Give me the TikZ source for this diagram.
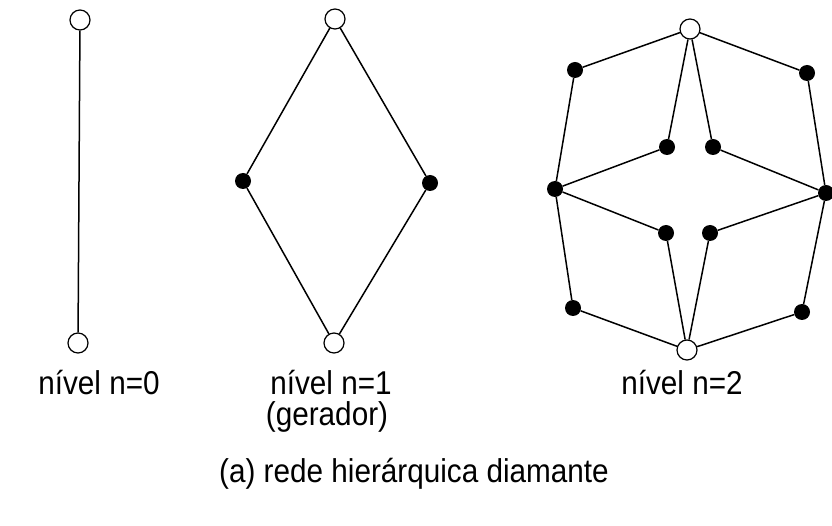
\documentclass[tikz,border=0pt]{standalone}
\usepackage{fontspec}
\usepackage{graphicx}
\setmainfont{Liberation Sans}
\newcommand{\narrowtext}[1]{\scalebox{0.9}[1]{#1}}
\begin{document}
\begin{tikzpicture}[x=1pt,y=-1pt,
  edge/.style={line width=1.5pt},
  open/.style={circle,draw,line width=1.2pt,fill=white,minimum size=20pt,inner sep=0pt},
  full/.style={circle,fill=black,minimum size=16pt,inner sep=0pt},
  lbl/.style={font=\fontsize{33}{36}\selectfont,inner sep=0pt,anchor=base}]
\useasboundingbox (0,0) rectangle (832,526);
% level 0
\node[open] (a0) at (80,20) {};
\node[open] (b0) at (78,343) {};
\draw[edge] (a0) -- (b0);
% level 1
\node[open] (t1) at (335,19) {};
\node[open] (u1) at (334,343) {};
\node[full] (l1) at (243,181) {};
\node[full] (r1) at (430,183) {};
\draw[edge] (t1) -- (l1) -- (u1) -- (r1) -- (t1);
% level 2
\node[open] (t2) at (690,29) {};
\node[open] (u2) at (687,350) {};
\node[full] (lm) at (555,189) {};
\node[full] (rm) at (826,193) {};
\node[full] (ula) at (575,70) {};
\node[full] (ura) at (807,73) {};
\node[full] (lla) at (573,308) {};
\node[full] (lra) at (802,312) {};
\node[full] (uli) at (667,147) {};
\node[full] (uri) at (713,147) {};
\node[full] (lli) at (666,233) {};
\node[full] (lri) at (710,233) {};
\draw[edge] (t2) -- (ula) -- (lm);
\draw[edge] (t2) -- (uli) -- (lm);
\draw[edge] (t2) -- (ura) -- (rm);
\draw[edge] (t2) -- (uri) -- (rm);
\draw[edge] (lm) -- (lla) -- (u2);
\draw[edge] (lm) -- (lli) -- (u2);
\draw[edge] (rm) -- (lra) -- (u2);
\draw[edge] (rm) -- (lri) -- (u2);
% labels
\node[lbl] (n0) at (99,394) {\narrowtext{nível n=0}};
\node[lbl] (n1) at (331,394) {\narrowtext{nível n=1}};
\node[lbl] (g1) at (327,425) {\narrowtext{(gerador)}};
\node[lbl] (n2) at (682,394) {\narrowtext{nível n=2}};
\node[lbl] (cap) at (414,482) {\narrowtext{(a) rede hierárquica diamante}};
\end{tikzpicture}
\end{document}
